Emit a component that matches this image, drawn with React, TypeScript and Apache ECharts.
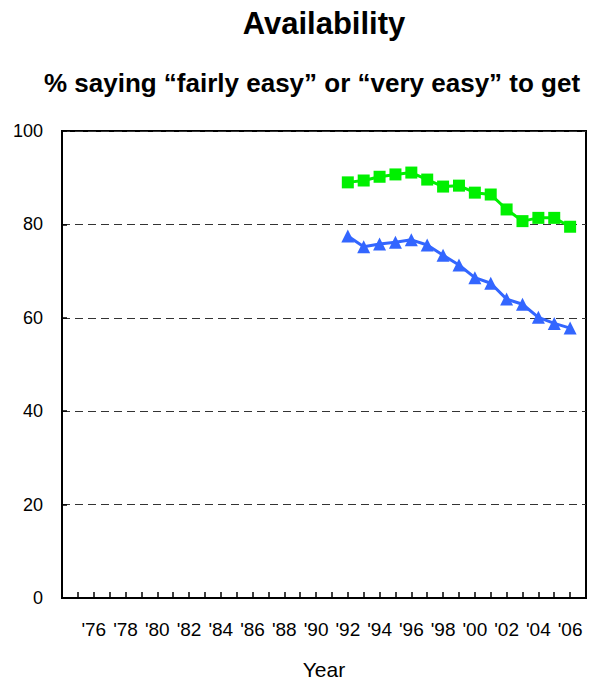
import React, { useEffect, useRef } from "react";
import * as echarts from "echarts";

const years = [1992, 1993, 1994, 1995, 1996, 1997, 1998, 1999, 2000, 2001, 2002, 2003, 2004, 2005, 2006];
const fairlyOrVeryEasyA = [89.0, 89.4, 90.2, 90.7, 91.1, 89.6, 88.1, 88.3, 86.8, 86.4, 83.2, 80.7, 81.4, 81.4, 79.5];
const fairlyOrVeryEasyB = [77.5, 75.2, 75.8, 76.2, 76.7, 75.6, 73.4, 71.3, 68.6, 67.4, 64.0, 62.9, 60.1, 58.8, 57.8];
const yTicks = [0, 20, 40, 60, 80, 100];
const titleText = "Availability";
const subtitleText = "% saying \u201cfairly easy\u201d or \u201cvery easy\u201d to get";
const xAxisName = "Year";

export default function App() {
  const ref = useRef<HTMLDivElement>(null);
  useEffect(() => {
    document.body.style.margin = "0";
    const chart = echarts.init(ref.current!, null, { renderer: "svg" });
    const font = "Liberation Sans, Arial, sans-serif";
    chart.setOption({
      animation: false,
      title: [
        {
          text: titleText,
          left: 319,
          top: 3,
          textAlign: "center",
          textStyle: { fontFamily: font, fontSize: 31, fontWeight: "bold", color: "#000" },
        },
        {
          text: subtitleText,
          left: 307,
          top: 65,
          textAlign: "center",
          textStyle: { fontFamily: font, fontSize: 26, fontWeight: "bold", color: "#000" },
        },
      ],
      grid: {
        left: 62,
        right: 15,
        top: 131,
        bottom: 88,
        show: true,
        borderColor: "#000",
        borderWidth: 2,
        backgroundColor: "transparent",
      },
      xAxis: {
        type: "value",
        min: 1974,
        max: 2007,
        interval: 1,
        name: xAxisName,
        nameLocation: "middle",
        nameGap: 61,
        nameTextStyle: { fontFamily: font, fontSize: 21, color: "#000" },
        axisLine: { show: true, lineStyle: { color: "#000", width: 2 } },
        axisTick: { show: true, inside: true, length: 6, lineStyle: { color: "#000", width: 1.5 } },
        splitLine: { show: false },
        axisLabel: {
          margin: 22,
          fontFamily: font,
          fontSize: 19,
          color: "#000",
          showMinLabel: true,
          showMaxLabel: true,
          formatter: (v: number) =>
            v >= 1976 && v <= 2006 && v % 2 === 0 ? "'" + String(v).slice(2) : "",
        },
      },
      yAxis: {
        type: "value",
        min: yTicks[0],
        max: yTicks[yTicks.length - 1],
        interval: 20,
        axisLine: { show: true, lineStyle: { color: "#000", width: 2 } },
        axisTick: { show: true, inside: true, length: 5, lineStyle: { color: "#000", width: 1.5 } },
        splitLine: { show: true, lineStyle: { color: "#333", width: 1, type: [8, 5] } },
        axisLabel: { margin: 19, fontFamily: font, fontSize: 18, color: "#000" },
      },
      series: [
        {
          type: "line",
          data: years.map((y, i) => [y, fairlyOrVeryEasyA[i]]),
          symbol: "rect",
          symbolSize: 12,
          lineStyle: { color: "#00f000", width: 3 },
          itemStyle: { color: "#00f000" },
          z: 3,
        },
        {
          type: "line",
          data: years.map((y, i) => [y, fairlyOrVeryEasyB[i]]),
          symbol: "triangle",
          symbolSize: 13,
          lineStyle: { color: "#3366ff", width: 3 },
          itemStyle: { color: "#3366ff" },
          z: 3,
        },
      ],
    });
    return () => chart.dispose();
  }, []);
  return <div ref={ref} style={{ width: 601, height: 686 }} />;
}
